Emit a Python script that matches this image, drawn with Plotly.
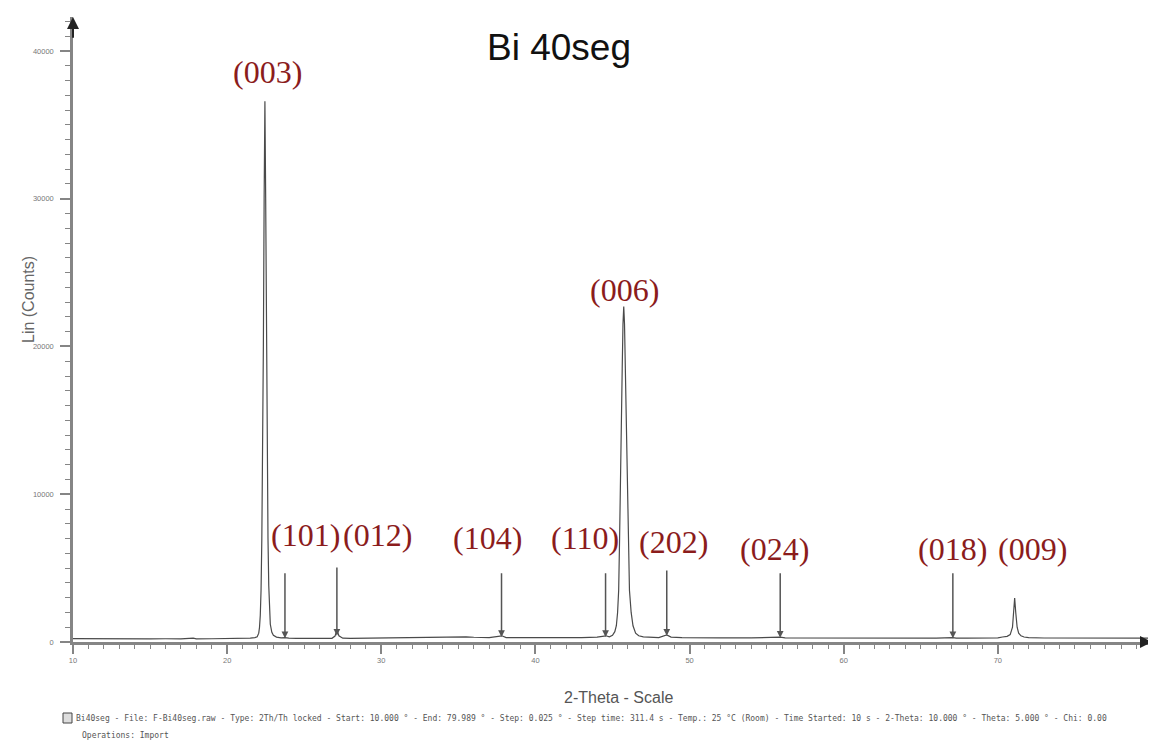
import plotly.graph_objects as go

# ---------------- data ----------------
two_theta = [10.0, 11.0, 12.0, 13.0, 14.0, 15.0, 16.0, 17.0, 17.8, 18.0, 19.0, 20.0, 21.0, 21.5, 21.8,
             21.95, 22.05, 22.10, 22.15, 22.20, 22.25, 22.30, 22.35, 22.40, 22.45, 22.50, 22.55, 22.60,
             22.65, 22.70, 22.75, 22.80, 22.90, 23.00, 23.20, 23.50, 23.75, 24.0, 24.5, 25.0, 26.0,
             26.8, 27.0, 27.12, 27.25, 27.5, 28.0, 29.0, 30.0, 30.5, 31.0, 31.5, 32.0, 32.5, 33.0, 33.5,
             34.0, 34.5, 35.0, 35.5, 36.0, 36.5, 37.0, 37.82, 38.1, 39.0, 40.0, 41.0, 42.0, 43.0, 44.0,
             44.57, 44.8, 45.00, 45.15, 45.25, 45.33, 45.40, 45.46, 45.50, 45.57, 45.63, 45.68, 45.73,
             45.78, 45.83, 45.89, 45.96, 46.02, 46.10, 46.21, 46.33, 46.50, 46.70, 47.0, 48.0, 48.52,
             48.8, 49.5, 50.0, 52.0, 54.0, 55.88, 56.2, 58.0, 60.0, 62.0, 64.0, 66.0, 67.08, 67.3, 68.0,
             69.0, 70.0, 70.3, 70.6, 70.8, 70.95, 71.02, 71.09, 71.16, 71.25, 71.35, 71.5, 71.7, 72.0,
             73.0, 75.0, 77.0, 79.99]
counts = [230, 220, 225, 215, 220, 215, 220, 210, 260, 215, 220, 225, 240, 260, 300,
          350, 600, 1000, 1800, 3500, 7000, 12500, 20000, 30000, 36600, 30000, 20000, 12500,
          7000, 3800, 2000, 1200, 650, 450, 330, 280, 300, 260, 250, 245, 240,
          250, 400, 820, 420, 260, 250, 260, 270, 300, 280, 310, 330, 320, 350, 340,
          360, 340, 330, 350, 320, 310, 300, 420, 300, 290, 280, 270, 280, 300, 330,
          420, 350, 450, 700, 1100, 2000, 3500, 7000, 10500, 15000, 18500, 21500, 22700,
          21500, 18500, 15000, 10500, 6500, 3500, 2000, 1100, 600, 420, 350, 300, 480,
          330, 300, 290, 280, 275, 330, 280, 270, 265, 265, 260, 260, 300, 260, 260,
          265, 280, 340, 380, 500, 1000, 2000, 2980, 2000, 1000, 600, 420, 340, 300,
          270, 265, 260, 260]

hkl_labels = ["(003)", "(101)", "(012)", "(104)", "(110)", "(006)", "(202)", "(024)", "(018)", "(009)"]
label_x = [22.65, 25.08, 29.78, 36.89, 43.2, 45.8, 48.98, 55.5, 67.06, 72.26]
label_y = [38580, 7240, 7240, 7040, 7040, 23820, 6770, 6290, 6290, 6290]

marker_pos = [23.75, 27.12, 37.8, 44.55, 48.52, 55.88, 67.08]
marker_top = [4750, 5150, 4750, 4750, 4940, 4750, 4750]
marker_tip = [250, 420, 330, 330, 420, 280, 260]

x_range = [10, 80]
y_range = [0, 42300]
x_major = [10, 20, 30, 40, 50, 60, 70, 80]
x_mid = [15, 25, 35, 45, 55, 65, 75]
y_major = [0, 10000, 20000, 30000, 40000]

title_text = "Bi 40seg"
x_title = "2-Theta - Scale"
y_title = "Lin (Counts)"
foot_1 = ("Bi40seg - File: F-Bi40seg.raw - Type: 2Th/Th locked - Start: 10.000 ° - End: 79.989 ° - "
          "Step: 0.025 ° - Step time: 311.4 s - Temp.: 25 °C (Room) - Time Started: 10 s - "
          "2-Theta: 10.000 ° - Theta: 5.000 ° - Chi: 0.00")
foot_2 = "Operations: Import"

# ---------------- layout geometry (page coordinates; page body has an 8px margin) ----------------
OFF = 8
VW, VH = 1156, 744
W, H = VW - OFF, VH - OFF
PLOT_L, PLOT_R, PLOT_T, PLOT_B = 73, 1152, 17, 642   # plot area in page pixels
L, R, T, B = PLOT_L - OFF, W - (PLOT_R - OFF), PLOT_T - OFF, H - (PLOT_B - OFF)
PW, PH = PLOT_R - PLOT_L, PLOT_B - PLOT_T


def px(p):
    return (p - PLOT_L) / PW


def py(p):
    return (PLOT_B - p) / PH


AXC = "#858585"
LAB = "#8b1c1c"

fig = go.Figure()
fig.add_trace(go.Scatter(x=two_theta, y=counts, mode="lines",
                         line=dict(color="#4a4a4a", width=1.2), showlegend=False,
                         hoverinfo="x+y"))
# dummy trace so the mid-tick overlay axis is drawn
fig.add_trace(go.Scatter(x=x_range, y=[None, None], xaxis="x2", mode="lines",
                         showlegend=False, hoverinfo="skip"))

ann = []
for t, lx, ly in zip(hkl_labels, label_x, label_y):
    ann.append(dict(x=lx, y=ly, xref="x", yref="y", text=t, showarrow=False,
                    xanchor="center", yanchor="middle",
                    font=dict(family="Liberation Serif", size=32, color=LAB)))
for mx, mt, mtip in zip(marker_pos, marker_top, marker_tip):
    ann.append(dict(x=mx, y=mtip, ax=mx, ay=mt, xref="x", yref="y", axref="x", ayref="y",
                    text="", showarrow=True, arrowhead=2, arrowsize=0.9, arrowwidth=1.5,
                    arrowcolor="#555555"))
# axis end arrows
ann.append(dict(x=x_range[0], y=y_range[1], ax=x_range[0], ay=y_range[1] - 1500,
                xref="x", yref="y", axref="x", ayref="y", text="", showarrow=True,
                arrowhead=2, arrowsize=1.2, arrowwidth=2, arrowcolor="#222222"))
ann.append(dict(x=x_range[1], y=y_range[0], ax=x_range[1] - 0.8, ay=y_range[0],
                xref="x", yref="y", axref="x", ayref="y", text="", showarrow=True,
                arrowhead=2, arrowsize=1.2, arrowwidth=2, arrowcolor="#222222"))


def text_ann(x, y, text, size, color, family="Liberation Sans", xanchor="center", angle=0):
    return dict(x=px(x), y=py(y), xref="paper", yref="paper", text=text, showarrow=False,
                xanchor=xanchor, yanchor="middle", textangle=angle,
                font=dict(family=family, size=size, color=color))


ann.append(text_ann(559, 47, title_text, 37, "#111111"))
ann.append(text_ann(618, 697, x_title, 16, "#555555"))
ann.append(text_ann(28, 300, y_title, 16, "#666666", angle=-90))
ann.append(text_ann(74, 718, foot_1, 8, "#555555", family="DejaVu Sans Mono", xanchor="left"))
ann.append(text_ann(80, 735, foot_2, 8, "#555555", family="DejaVu Sans Mono", xanchor="left"))

shapes = [dict(type="rect", xref="paper", yref="paper", x0=px(63), x1=px(72), y0=py(723), y1=py(713),
               line=dict(color="#444444", width=1), fillcolor="#dddddd")]

fig.update_layout(
    width=W, height=H, margin=dict(l=L, r=R, t=T, b=B, autoexpand=False),
    paper_bgcolor="white", plot_bgcolor="white",
    annotations=ann, shapes=shapes, showlegend=False,
    xaxis=dict(range=x_range, tickvals=x_major, ticks="outside", ticklen=9, tickwidth=1.5,
               tickcolor=AXC, showline=True, linecolor=AXC, linewidth=2.5, showgrid=False,
               zeroline=False, ticklabelstandoff=0, automargin=False,
               tickfont=dict(family="Liberation Sans", size=7.5, color="#777777"),
               minor=dict(dtick=1, tick0=10, ticks="outside", ticklen=4, tickcolor=AXC, tickwidth=1)),
    xaxis2=dict(range=x_range, overlaying="x", anchor="y", side="bottom", tickvals=x_mid,
                ticks="outside", ticklen=6, tickwidth=1, tickcolor=AXC, showticklabels=False,
                showline=False, showgrid=False, zeroline=False, automargin=False),
    yaxis=dict(range=y_range, tickvals=y_major, tickformat="d", ticks="outside", ticklen=10,
               tickwidth=1.5, tickcolor=AXC, showline=True, linecolor=AXC, linewidth=2.5,
               showgrid=False, zeroline=False, ticklabelstandoff=5, automargin=False,
               tickfont=dict(family="Liberation Sans", size=7.5, color="#777777"),
               minor=dict(dtick=1000, tick0=0, ticks="outside", ticklen=5, tickcolor=AXC, tickwidth=1)),
)

fig.write_html("out.html")
